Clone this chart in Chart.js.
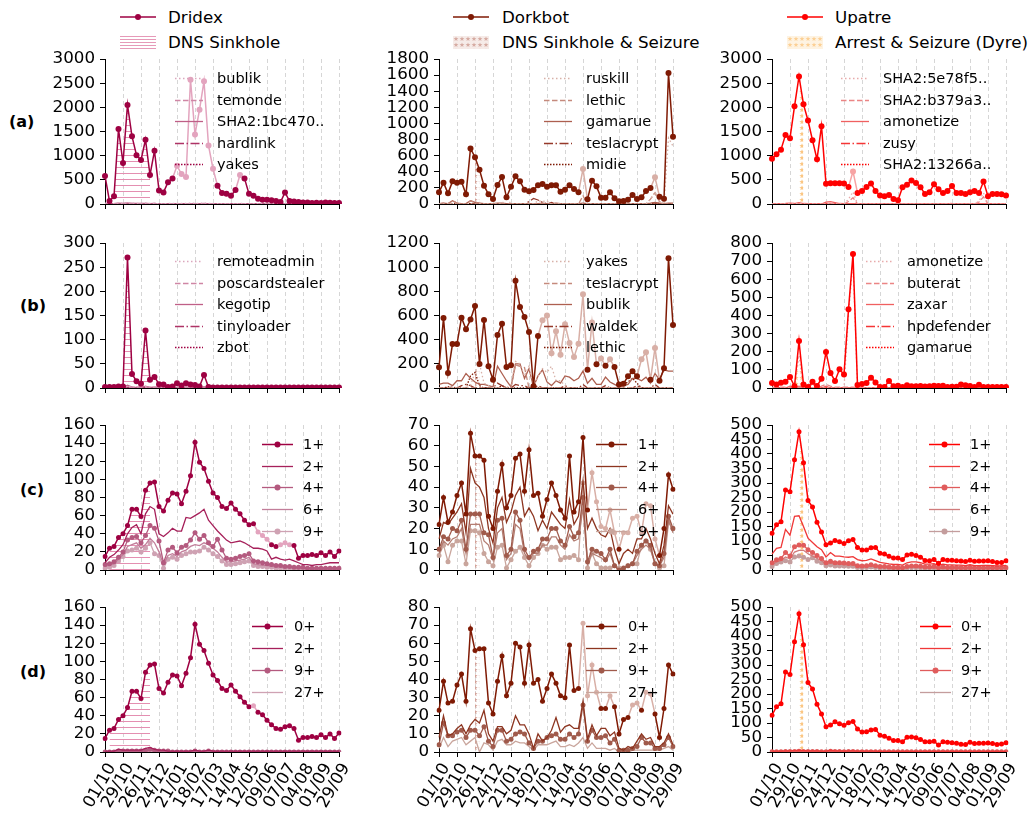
<!DOCTYPE html>
<html>
<head>
<meta charset="utf-8">
<script src="https://cdn.jsdelivr.net/npm/chart.js@4.4.1/dist/chart.umd.min.js"></script>
<style>
html,body{margin:0;padding:0;background:#fff;}
body{position:relative;width:1033px;height:814px;overflow:hidden;font-family:"DejaVu Sans",sans-serif;color:#000;}
canvas{position:absolute;}
.lt{position:absolute;font-size:16.7px;line-height:20px;white-space:nowrap;}
.rl{position:absolute;font-size:16px;font-weight:bold;line-height:20px;}
svg{position:absolute;}
</style>
</head>
<body>
<svg style="left:120px;top:7px" width="36" height="20"><line x1="0" y1="10" x2="36" y2="10" stroke="#9e0142" stroke-width="1.5"/><circle cx="18" cy="10" r="3" fill="#9e0142"/></svg>
<div class="lt" style="left:168px;top:7px">Dridex</div>
<svg style="left:120px;top:36px" width="36" height="13"><defs><pattern id="hl" width="6" height="3" patternUnits="userSpaceOnUse"><rect width="6" height="1" fill="#e699b8"/></pattern></defs><rect width="36" height="13" fill="url(#hl)"/></svg>
<div class="lt" style="left:168px;top:32px">DNS Sinkhole</div>

<svg style="left:453px;top:7px" width="36" height="20"><line x1="0" y1="10" x2="36" y2="10" stroke="#7f1a04" stroke-width="1.5"/><circle cx="18" cy="10" r="3" fill="#7f1a04"/></svg>
<div class="lt" style="left:502px;top:7px">Dorkbot</div>
<svg style="left:453px;top:36px" width="36" height="13"><defs><pattern id="sk" width="6" height="6" patternUnits="userSpaceOnUse"><polygon points="3,0.4 3.65,2.11 5.47,2.2 4.05,3.34 4.53,5.1 3,4.1 1.47,5.1 1.95,3.34 0.53,2.2 2.35,2.11" fill="#d6aca3"/></pattern></defs><rect width="36" height="13" fill="#f6ebe8"/><rect width="36" height="13" fill="url(#sk)"/></svg>
<div class="lt" style="left:502px;top:32px">DNS Sinkhole &amp; Seizure</div>

<svg style="left:787px;top:7px" width="36" height="20"><line x1="0" y1="10" x2="36" y2="10" stroke="#ff0000" stroke-width="1.5"/><circle cx="18" cy="10" r="3" fill="#ff0000"/></svg>
<div class="lt" style="left:835px;top:7px">Upatre</div>
<svg style="left:787px;top:36px" width="36" height="13"><defs><pattern id="su" width="6" height="6" patternUnits="userSpaceOnUse"><polygon points="3,0.4 3.65,2.11 5.47,2.2 4.05,3.34 4.53,5.1 3,4.1 1.47,5.1 1.95,3.34 0.53,2.2 2.35,2.11" fill="#fcd095"/></pattern></defs><rect width="36" height="13" fill="#fef3e2"/><rect width="36" height="13" fill="url(#su)"/></svg>
<div class="lt" style="left:835px;top:32px">Arrest &amp; Seizure (Dyre)</div>

<div class="rl" style="left:9px;top:112px">(a)</div>
<div class="rl" style="left:20px;top:296px">(b)</div>
<div class="rl" style="left:20px;top:480px">(c)</div>
<div class="rl" style="left:20px;top:662px">(d)</div>

<script>
// ---------- categories & tick labels ----------
const weeks = ['01/10','08/10','15/10','22/10','29/10','05/11','12/11','19/11','26/11','03/12','10/12','17/12','24/12','31/12','07/01','14/01','21/01','28/01','04/02','11/02','18/02','25/02','03/03','10/03','17/03','24/03','31/03','07/04','14/04','21/04','28/04','05/05','12/05','19/05','26/05','02/06','09/06','16/06','23/06','30/06','07/07','14/07','21/07','28/07','04/08','11/08','18/08','25/08','01/09','08/09','15/09','22/09','29/09'];
const tickLabels = ['01/10','29/10','26/11','24/12','21/01','18/02','17/03','14/04','12/05','09/06','07/07','04/08','01/09','29/09'];

// ---------- row (a) ----------
const dridexA = [580,60,160,1550,850,2050,1400,1010,910,1330, 600,1100,280,240,450,530,790,620,560,2570, 1440,1950,2540,1210,730,380,230,210,170,290, 600,530,210,170,110,90,90,80,60,40, 240,60,50,40,30,30,20,25,20,30, 25,20,20];
const dridexA_light = [16,17,18,19,20,21,22,23,24,30];
const dxA_bublik = [20,5,10,20,15,25,20,15,15,20, 10,15,5,5,10,10,10,10,10,20, 15,15,20,15,10,5,5,5,5,5, 10,10,5,5,5,5,5,5,5,5, 5,5,5,5,5,5,5,5,5,5, 5,5,5];
const dxA_temonde = [10,0,5,10,5,15,10,5,5,10, 5,10,0,0,5,5,5,5,5,10, 5,5,10,5,5,0,0,0,0,0, 5,5,0,0,0,0,0,0,0,0, 0,0,0,0,0,0,0,0,0,0, 0,0,0];
const dxA_sha = [5,0,5,15,10,20,15,10,10,10, 5,10,0,0,0,0,0,0,0,0, 0,0,0,0,0,0,0,0,0,0, 0,0,0,0,0,0,0,0,0,0, 0,0,0,0,0,0,0,0,0,0, 0,0,0];
const dxA_hardlink = [0,0,0,5,5,10,5,5,5,5, 5,5,0,0,0,0,0,0,0,0, 0,0,0,0,0,0,0,0,0,0, 0,0,0,0,0,0,0,0,0,0, 0,0,0,0,0,0,0,0,0,0, 0,0,0];
const dxA_yakes = [0,0,0,0,0,0,0,0,0,0, 0,0,0,0,0,0,0,0,0,0, 0,0,0,0,0,0,0,0,0,0, 0,0,0,0,0,0,0,0,0,0, 0,0,0,0,0,0,0,0,0,0, 0,0,0];

const dorkbotA = [145,265,132,281,265,277,120,690,580,426, 228,120,62,236,335,83,215,343,281,178, 157,174,232,248,215,232,232,153,178,232, 186,145,434,58,290,219,79,79,145,70, 33,37,54,112,62,83,161,199,331,91, 66,1626,836];
const dorkbotA_light = [32,48];
const dkA_ruskill = [0,0,0,0,0,0,0,0,0,0, 0,0,0,0,0,80,0,0,0,0, 0,0,40,30,40,0,0,0,0,0, 0,0,0,0,0,0,0,0,0,0, 0,0,0,0,0,0,0,60,150,30, 0,820,720];
const dkA_lethic = [0,10,0,40,10,0,0,40,20,10, 0,0,0,0,0,0,0,0,0,0, 0,0,0,0,0,0,0,0,0,0, 0,0,100,0,0,0,0,0,0,0, 0,0,0,0,0,0,0,60,140,30, 0,0,0];
const dkA_gamarue = [5,10,5,40,10,5,5,40,20,10, 5,5,5,10,10,5,5,5,5,5, 5,5,5,10,5,5,10,5,5,5, 5,5,10,5,5,5,5,5,5,5, 5,5,5,5,5,5,5,10,20,10, 5,10,10];
const dkA_tesla = [0,0,0,0,0,0,0,0,0,0, 0,0,0,0,0,0,0,0,0,0, 30,70,50,20,0,20,0,0,0,0, 0,0,0,0,0,0,0,0,0,0, 0,0,0,0,0,0,0,0,0,0, 0,0,0];
const dkA_midie = [0,0,0,5,0,0,0,5,5,0, 0,0,0,0,0,0,0,0,0,0, 0,0,0,0,0,0,0,0,0,0, 0,0,0,0,0,0,0,0,0,0, 0,0,0,0,0,0,0,5,10,5, 0,0,0];

const upatreA = [937,1028,1125,1430,1361,2020,2640,2062,1729,1319, 924,1611,417,430,430,430,424,354,674,229, 271,354,424,271,174,160,188,104,76,347, 396,486,437,347,208,243,410,306,229,271, 375,229,229,208,243,271,229,465,160,208, 208,201,174];
const upatreA_light = [18];
const upA_5e78 = [0,0,0,0,0,0,20,0,0,0, 0,0,0,0,0,0,0,100,250,0, 0,0,0,0,0,0,0,0,0,0, 0,0,0,0,0,0,0,0,0,0, 0,0,0,0,0,0,60,230,0,0, 0,0,0];
const upA_b379 = [0,0,0,0,0,0,10,0,0,0, 0,0,0,0,0,0,0,50,130,0, 0,0,0,0,0,0,0,0,0,0, 0,0,0,0,0,0,0,0,0,0, 0,0,0,0,0,0,40,150,0,0, 0,0,0];
const upA_amonetize = [0,0,5,10,20,10,30,10,5,0, 0,0,40,50,30,10,5,5,5,5, 5,5,5,5,5,5,5,5,5,5, 5,5,5,5,5,5,5,5,5,5, 5,5,5,5,5,5,5,5,5,5, 5,5,5];
const upA_zusy = [0,0,0,0,0,0,0,0,0,0, 0,0,0,0,0,0,0,0,0,0, 0,0,0,0,0,0,0,0,0,0, 0,0,0,0,0,0,0,0,0,0, 15,0,0,0,0,0,0,0,0,0, 0,0,0];
const upA_1326 = [0,0,0,0,0,0,0,0,0,0, 0,0,0,0,0,0,0,0,0,0, 0,0,0,0,0,0,0,0,0,0, 0,0,0,0,0,0,0,0,0,0, 0,0,0,0,0,0,0,0,0,0, 0,0,0];

// ---------- row (b) ----------
const dridexB = [2,2,2,3,3,270,29,14,9,119, 17,23,8,7,2,3,10,5,10,7, 6,3,27,2,1,1,1,1,1,1, 1,1,1,1,1,1,1,1,1,1, 1,1,1,1,1,1,1,1,1,1, 1,1,1];
const dxB_remote = [3,3,3,3,3,3,3,3,3,3, 3,3,3,3,3,3,3,3,3,3, 3,3,3,3,3,3,3,3,3,3, 3,3,3,3,3,3,3,3,3,3, 3,3,3,3,3,3,3,3,3,3, 3,3,3];
const dxB_poscard = [2,2,2,2,2,2,2,2,2,2, 2,2,2,2,2,2,2,2,2,2, 2,2,2,2,2,2,2,2,2,2, 2,2,2,2,2,2,2,2,2,2, 2,2,2,2,2,2,2,2,2,2, 2,2,2];
const dxB_kegotip = [0,0,0,1,1,6,2,1,1,4, 1,1,0,0,0,0,1,0,1,0, 0,0,2,0,0,0,0,0,0,0, 0,0,0,0,0,0,0,0,0,0, 0,0,0,0,0,0,0,0,0,0, 0,0,0];
const dxB_tiny = [1,1,1,1,1,2,1,1,1,2, 1,1,1,1,1,1,1,1,1,1, 1,1,1,1,1,1,1,1,1,1, 1,1,1,1,1,1,1,1,1,1, 1,1,1,1,1,1,1,1,1,1, 1,1,1];
const dxB_zbot = [0,0,0,0,0,0,0,0,0,0, 0,0,0,0,0,0,0,0,0,0, 0,0,0,0,0,0,0,0,0,0, 0,0,0,0,0,0,0,0,0,0, 0,0,0,0,0,0,0,0,0,0, 0,0,0];

const dorkbotB = [171,579,124,364,364,582,486,566,679,199, 563,179,69,439,532,174,188,888,670,588, 463,14,430,560,599,287,469,276,527,372, 257,367,775,152,543,196,245,185,237,174, 30,36,97,138,97,237,295,69,331,61, 163,1073,521];
const dorkbotB_light = [23,24,25,26,27,28,29,30,31,32,34,36,38,45,46,48];
const dkB_yakes = [0,0,0,0,0,0,0,20,130,200, 40,20,0,0,0,0,30,220,200,100, 180,0,100,160,130,180,60,60,20,0, 0,0,0,0,0,0,0,0,0,0, 0,0,0,0,0,0,0,0,0,0, 0,0,0];
const dkB_tesla = [0,0,0,0,0,0,0,0,0,0, 0,0,0,0,0,0,0,190,180,170, 0,0,0,0,0,0,0,0,0,0, 0,0,0,0,0,0,0,0,0,0, 0,0,0,0,0,0,0,0,0,0, 0,0,0];
const dkB_bublik = [30,40,40,20,60,60,120,80,50,30, 30,20,10,180,120,60,10,200,200,80, 160,10,100,150,50,20,60,40,100,90, 60,80,140,40,80,30,30,90,50,30, 10,20,30,80,80,60,90,40,120,70, 150,140,140];
const dkB_waldek = [0,0,0,10,0,20,30,20,0,0, 0,0,0,40,20,0,0,30,20,20, 0,0,20,0,0,0,0,0,20,0, 0,0,30,0,0,0,0,20,0,0, 0,0,0,0,20,0,0,0,30,0, 0,0,0];
const dkB_lethic = [0,0,10,0,0,0,0,100,130,20, 0,0,0,0,20,0,0,0,0,0, 0,0,0,0,0,0,0,0,0,0, 0,0,0,0,0,0,0,0,0,0, 0,30,50,80,40,0,0,0,0,0, 0,0,0];

const upatreB = [28,20,29,35,61,9,259,20,5,35, 11,51,199,83,39,103,75,434,739,17, 22,28,57,31,5,5,39,9,13,6, 15,10,9,11,8,9,13,11,13,5, 7,7,20,15,11,5,18,5,5,5, 5,5,5];
const upB_amonetize = [0,0,0,0,0,0,180,0,0,0, 0,0,0,0,0,0,0,400,700,0, 0,0,0,0,0,0,0,0,0,0, 0,0,0,0,0,0,0,0,0,0, 0,0,0,0,0,0,0,0,0,0, 0,0,0];
const upB_buterat = [5,5,5,5,5,0,5,0,0,0, 0,10,20,10,5,5,5,5,5,0, 0,0,0,0,0,0,0,0,0,0, 0,0,0,0,0,0,0,0,0,0, 0,0,0,0,0,0,0,0,0,0, 0,0,0];
const upB_zaxar = [0,0,0,0,10,0,10,0,0,25, 0,0,10,0,0,0,0,0,0,0, 0,0,0,0,0,0,0,0,0,0, 0,0,0,0,0,0,0,0,0,0, 0,0,0,0,0,0,0,0,0,0, 0,0,0];
const upB_hpdefender = [0,0,0,0,0,0,0,0,0,0, 0,0,0,0,0,0,0,0,0,0, 0,0,0,0,0,0,0,0,0,0, 0,0,0,0,0,0,0,0,0,0, 0,0,5,0,0,0,0,0,0,0, 0,0,0];
const upB_gamarue = [0,0,0,0,0,0,0,0,0,0, 0,0,0,0,0,0,0,0,0,0, 0,0,0,0,0,0,0,0,0,0, 0,0,0,0,0,0,0,0,0,0, 0,0,0,0,0,0,0,0,0,0, 0,0,0];

// ---------- row (c) ----------
const dridexC1 = [15,24,26,36,40,49,67,67,59,88, 96,97,70,65,77,85,84,73,87,104, 141,119,112,98,85,80,70,68,74,67, 62,55,50,51,42,38,34,28,26,28, 30,28,27,13,16,16,17,16,19,16, 20,15,21];
const dridexC1_light = [34,35,36,39,40,41];
const dridexC2 = [8,14,17,22,28,40,47,50,40,62, 70,67,40,37,41,46,43,43,58,57, 60,63,67,55,49,43,38,33,30,31, 32,30,27,24,24,23,21,12,14,12, 11,12,10,8,6,6,5,6,6,7, 8,8,8];
const dridexC4 = [6,7,9,14,20,33,36,37,30,38, 49,46,32,8,22,25,19,25,27,33, 41,34,38,30,26,34,22,13,12,13, 15,16,18,10,9,8,7,6,5,5, 4,4,3,3,3,2,2,2,2,2, 2,2,2];
const dridexC6 = [4,5,7,12,17,26,28,30,24,28, 35,30,20,6,16,18,15,20,22,26, 28,27,30,28,24,20,14,9,9,10, 11,12,14,7,6,5,5,4,4,3, 3,3,2,2,2,2,2,1,1,1, 1,1,1];
const dridexC9 = [2,3,5,10,15,21,22,24,20,24, 30,18,16,2,12,14,12,16,18,20, 20,21,25,22,18,15,10,6,6,7, 8,9,10,5,4,4,3,3,2,2, 2,2,1,1,1,1,1,1,1,1, 1,1,1];

const dorkbotC1 = [22,35,23,28,36,42,27,66,55,55, 53,26,20,38,51,30,36,54,56,38, 58,36,37,26,34,42,36,29,25,55, 28,33,64,29,47,33,21,20,29,18, 10,18,18,25,26,18,32,31,15,7, 20,46,39];
const dorkbotC1_light = [34,35,36,37,38,39,41,42,43,44,45,46,47,48];
const dorkbotC2 = [15,23,22,25,28,32,18,49,42,40, 35,20,13,30,35,23,28,36,40,26, 30,26,19,24,20,28,25,22,20,34, 22,26,43,20,25,20,17,16,20,10, 3,8,10,8,15,15,20,15,8,3, 12,31,27];
const dorkbotC4 = [10,16,15,20,19,24,10,27,27,27, 18,17,6,24,25,7,10,28,24,10, 6,9,10,15,15,20,20,14,12,21, 16,18,35,4,10,9,8,5,10,2, 0,1,2,3,9,12,14,12,3,2, 8,26,20];
const dorkbotC6 = [8,14,12,15,16,20,8,22,22,22, 14,12,5,18,20,5,8,22,20,8, 5,8,8,12,12,16,16,12,10,17, 14,15,30,3,8,7,6,4,8,2, 0,1,2,3,7,10,12,10,3,2, 6,24,18];
const dorkbotC9 = [7,12,4,12,14,14,3,19,19,18, 8,4,2,11,12,1,5,9,11,6, 2,6,8,12,10,11,11,5,6,6, 7,5,42,1,8,3,1,1,1,2, 1,0,2,3,3,12,14,10,3,1, 2,23,20];

const upatreC1 = [127,156,166,276,270,380,477,370,240,217, 165,131,87,93,102,97,91,101,105,78, 69,69,77,78,58,55,47,41,41,36, 52,54,50,44,33,32,36,23,36,34, 34,32,31,29,34,30,31,31,32,29, 26,26,32];
const upatreC2 = [55,75,78,140,120,185,187,150,110,95, 80,70,45,60,48,48,45,44,46,36, 32,33,38,32,26,24,21,19,19,17, 25,28,28,25,20,20,22,15,20,18, 18,17,17,15,18,15,15,16,16,15, 14,14,16];
const upatreC4 = [25,35,40,60,48,80,86,85,70,60, 50,40,25,30,25,25,24,22,22,15, 14,15,18,15,12,12,10,9,9,8, 12,14,14,13,10,10,12,8,10,9, 9,9,8,8,9,8,8,8,9,8, 8,8,9];
const upatreC6 = [18,28,32,45,38,62,68,68,56,48, 40,32,20,24,20,20,19,18,18,12, 11,12,14,12,10,9,8,7,7,6, 10,11,11,10,8,8,9,6,8,7, 7,7,6,6,7,6,6,6,7,6, 6,6,7];
const upatreC9 = [12,22,28,32,28,45,48,44,36,42, 30,25,15,17,14,14,14,13,13,9, 8,9,10,9,7,6,6,5,5,4, 7,8,8,7,6,6,7,5,6,5, 5,5,4,4,5,4,4,4,5,4, 4,4,5];

// ---------- row (d) ----------
const dridexD0 = [15,24,26,36,40,49,67,67,59,88, 96,97,70,65,77,85,84,73,87,104, 141,119,112,98,85,79,70,68,74,67, 61,55,50,51,44,41,35,30,26,25, 28,29,26,13,16,16,17,16,19,16, 20,15,21];
const dridexD0_light = [33];
const dridexD2 = [1,1,1,3,2,2,2,2,2,4, 5,3,2,2,1,1,1,1,1,1, 2,1,1,2,1,1,1,1,1,1, 1,1,1,1,1,1,1,1,1,1, 1,1,1,1,1,1,1,1,1,1, 1,1,1];
const dridexD9 = [0,0,0,1,1,1,1,1,1,2, 3,2,1,1,1,0,0,0,0,0, 1,0,0,1,0,0,0,0,0,0, 0,0,0,0,0,0,0,0,0,0, 0,0,0,0,0,0,0,0,0,0, 0,0,0];
const dridexD27 = [0,0,0,0,0,0,0,0,0,1, 1,1,0,0,0,0,0,0,0,0, 0,0,0,0,0,0,0,0,0,0, 0,0,0,0,0,0,0,0,0,0, 0,0,0,0,0,0,0,0,0,0, 0,0,0];

const dorkbotD0 = [23,39,27,28,37,43,28,68,56,57, 57,27,21,39,53,31,38,60,58,38, 59,38,40,28,35,43,38,31,30,59, 34,35,71,31,48,33,24,24,31,25, 10,18,19,26,27,23,33,32,21,8, 24,48,43];
const dorkbotD0_light = [32,33,34,35,38,43,44,46,47];
const dorkbotD2 = [8,20,9,10,13,15,10,15,18,16, 23,10,6,14,14,10,12,20,15,15, 10,2,10,6,8,12,19,11,14,15, 13,13,28,7,15,9,13,13,9,11, 2,1,3,2,6,10,7,8,3,3, 5,10,4];
const dorkbotD9 = [4,16,9,9,11,12,8,12,12,9, 14,6,3,12,12,6,7,10,11,10, 5,2,6,6,8,9,10,7,7,10, 8,10,26,6,12,8,8,9,5,7, 1,1,1,2,3,8,5,5,2,2, 4,8,3];
const dorkbotD27 = [2,8,3,6,7,8,4,6,8,0, 5,4,1,6,7,4,4,6,5,5, 3,1,4,4,4,5,6,3,3,4, 3,5,8,2,5,2,2,2,1,2, 0,0,0,1,1,1,1,1,1,1, 2,3,1];

const upatreD0 = [127,156,166,276,267,380,477,370,240,217, 165,131,87,93,104,97,92,101,105,79, 69,70,76,78,58,54,47,40,40,35, 51,52,49,43,35,35,37,24,35,34, 32,30,27,26,34,29,30,30,31,29, 26,28,32];
const upatreD2 = [3,3,3,4,4,5,6,5,4,4, 4,3,3,6,4,4,3,4,4,3, 3,3,3,3,2,2,2,2,2,2, 2,2,2,2,2,2,2,2,2,2, 2,2,2,2,2,2,2,2,2,2, 2,2,2];
const upatreD9 = [1,1,1,2,2,2,3,2,2,2, 2,1,1,3,2,2,1,2,2,1, 1,1,1,1,1,1,1,1,1,1, 1,1,1,1,1,1,1,1,1,1, 1,1,1,1,1,1,1,1,1,1, 1,1,1];
const upatreD27 = [0,0,0,1,1,1,2,1,1,1, 1,0,0,1,1,1,0,1,1,0, 0,0,0,0,0,0,0,0,0,0, 0,0,0,0,0,0,0,0,0,0, 0,0,0,0,0,0,0,0,0,0, 0,0,0];

// ---------- styles ----------
const DX = '#9e0142', DX_L = '#e3a4be', DX_H = '#e48fb1';
const DK = '#7f1a04', DK_L = '#d8afa6', DK_H = '#d3a299';
const UP = '#ff0000', UP_L = '#f7a3a3', UP_H = '#fbc682';
const DX_F = ['#dba7bd','#cf86a5','#bf5f87','#ae3366','#9e0142'];
const DK_F = ['#d8b1a8','#c58a7d','#ad5f4f','#96392a','#7f1a04'];
const UP_F = ['#e8aaaa','#eb8585','#f06060','#f53535','#ff0000'];
const DX_T = ['#9e0142','#a6205a','#b45a7f','#c27e9a','#cfa2b3'];
const DK_T = ['#7f1a04','#8d3520','#a05a4b','#b47e73','#c9a59c'];
const UP_T = ['#ff0000','#f03838','#e05c5c','#d07c7c','#c49d9d'];
const DOT = [1.5, 2.5], DASH = [5.5, 2.5], SOLID = [], DASHDOT = [9, 2.5, 1.5, 2.5], DOTD = [1.5, 1.5];

const YW = 75, PW = 234, PH = 145, PT = 12, PR = 14, XH = 8, XHD = 62;
const COLX = [105, 439, 772], ROWY = [59, 243, 425, 607];
const GRID = '#d6d6d6';
Chart.defaults.font.family = 'DejaVu Sans';

function starPath(g, cx, cy, R, r) {
  g.beginPath();
  for (let k = 0; k < 10; k++) {
    const ang = -Math.PI / 2 + k * Math.PI / 5, rad = k % 2 ? r : R;
    g.lineTo(cx + rad * Math.cos(ang), cy + rad * Math.sin(ang));
  }
  g.closePath(); g.fill();
}
function makePattern(kind, color) {
  const c = document.createElement('canvas'); c.width = 6; c.height = 6;
  const g = c.getContext('2d'); g.fillStyle = color;
  if (kind === 'lines') { g.fillRect(0, 0, 6, 1); }
  else { starPath(g, 3, 3, 2.8, 1.2); }
  return g.createPattern(c, 'repeat');
}

const M = (data, color, lightColor, light, radius, label) => ({data, color, lightColor, light, radius, label, width: 1.5});
const F = (label, data, color, dash, radius) => ({label, data, color, dash, radius: radius || 0, width: 1.3});

const panels = [
  {row:0, col:0, yMax:3000, yStep:500,
   lines:[M(dridexA, DX, DX_L, dridexA_light, 3),
          F('bublik', dxA_bublik, DX_F[0], DOT), F('temonde', dxA_temonde, DX_F[1], DASH),
          F('SHA2:1bc470..', dxA_sha, DX_F[2], SOLID), F('hardlink', dxA_hardlink, DX_F[3], DASHDOT),
          F('yakes', dxA_yakes, DX_F[4], DOTD)],
   legend:{x:70, tx:112, y0:19, dy:21.5, len:28},
   hatch:{from:1, to:10, top:dridexA, kind:'lines', color:DX_H}},
  {row:0, col:1, yMax:1800, yStep:200,
   lines:[M(dorkbotA, DK, DK_L, dorkbotA_light, 3),
          F('ruskill', dkA_ruskill, DK_F[0], DOT), F('lethic', dkA_lethic, DK_F[1], DASH),
          F('gamarue', dkA_gamarue, DK_F[2], SOLID), F('teslacrypt', dkA_tesla, DK_F[3], DASHDOT),
          F('midie', dkA_midie, DK_F[4], DOTD)],
   legend:{x:105, tx:147, y0:19, dy:21.5, len:28},
   hatch:{from:8, to:9, top:dorkbotA, kind:'stars', color:DK_H}},
  {row:0, col:2, yMax:3000, yStep:500,
   lines:[M(upatreA, UP, UP_L, upatreA_light, 3),
          F('SHA2:5e78f5..', upA_5e78, UP_F[0], DOT), F('SHA2:b379a3..', upA_b379, UP_F[1], DASH),
          F('amonetize', upA_amonetize, UP_F[2], SOLID), F('zusy', upA_zusy, UP_F[3], DASHDOT),
          F('SHA2:13266a..', upA_1326, UP_F[4], DOTD)],
   legend:{x:69, tx:111, y0:19, dy:21.5, len:28},
   hatch:{from:6, to:7, top:upatreA, kind:'stars', color:UP_H}},

  {row:1, col:0, yMax:300, yStep:50,
   lines:[M(dridexB, DX, DX_L, [], 3),
          F('remoteadmin', dxB_remote, DX_F[0], DOT), F('poscardstealer', dxB_poscard, DX_F[1], DASH),
          F('kegotip', dxB_kegotip, DX_F[2], SOLID), F('tinyloader', dxB_tiny, DX_F[3], DASHDOT),
          F('zbot', dxB_zbot, DX_F[4], DOTD)],
   legend:{x:70, tx:112, y0:18, dy:21.5, len:28},
   hatch:{from:1, to:10, top:dridexB, kind:'lines', color:DX_H}},
  {row:1, col:1, yMax:1200, yStep:200,
   lines:[M(dorkbotB, DK, DK_L, dorkbotB_light, 3),
          F('yakes', dkB_yakes, DK_F[0], DOT), F('teslacrypt', dkB_tesla, DK_F[1], DASH),
          F('bublik', dkB_bublik, DK_F[2], SOLID), F('waldek', dkB_waldek, DK_F[3], DASHDOT),
          F('lethic', dkB_lethic, DK_F[4], DOTD)],
   legend:{x:105, tx:147, y0:18, dy:21.5, len:28},
   hatch:{from:8, to:9, top:dkB_yakes, kind:'stars', color:DK_H}},
  {row:1, col:2, yMax:800, yStep:100,
   lines:[M(upatreB, UP, UP_L, [], 3),
          F('amonetize', upB_amonetize, UP_F[0], DOT), F('buterat', upB_buterat, UP_F[1], DASH),
          F('zaxar', upB_zaxar, UP_F[2], SOLID), F('hpdefender', upB_hpdefender, UP_F[3], DASHDOT),
          F('gamarue', upB_gamarue, UP_F[4], DOTD)],
   legend:{x:94, tx:135, y0:18, dy:21.5, len:28},
   hatch:{from:5, to:7, top:upB_amonetize, kind:'stars', color:UP_H}},

  {row:2, col:0, yMax:160, yStep:20,
   lines:[M(dridexC1, DX_T[0], DX_L, dridexC1_light, 2.5, '1+'),
          F('2+', dridexC2, DX_T[1], SOLID), F('4+', dridexC4, DX_T[2], SOLID, 2.5),
          F('6+', dridexC6, DX_T[3], SOLID), F('9+', dridexC9, DX_T[4], SOLID, 2.5)],
   legend:{x:157, tx:198, y0:19, dy:21.7, len:31},
   hatch:{from:1, to:10, top:dridexC1, kind:'lines', color:DX_H}},
  {row:2, col:1, yMax:70, yStep:10,
   lines:[M(dorkbotC1, DK_T[0], DK_L, dorkbotC1_light, 2.5, '1+'),
          F('2+', dorkbotC2, DK_T[1], SOLID), F('4+', dorkbotC4, DK_T[2], SOLID, 2.5),
          F('6+', dorkbotC6, DK_T[3], SOLID), F('9+', dorkbotC9, DK_T[4], SOLID, 2.5)],
   legend:{x:157, tx:199, y0:19, dy:21.7, len:31},
   hatch:{from:8, to:9, top:dorkbotC1, kind:'stars', color:DK_H}},
  {row:2, col:2, yMax:500, yStep:50,
   lines:[M(upatreC1, UP_T[0], UP_L, [], 2.5, '1+'),
          F('2+', upatreC2, UP_T[1], SOLID), F('4+', upatreC4, UP_T[2], SOLID, 2.5),
          F('6+', upatreC6, UP_T[3], SOLID), F('9+', upatreC9, UP_T[4], SOLID, 2.5)],
   legend:{x:157, tx:198, y0:19, dy:21.7, len:31},
   hatch:{from:6, to:7, top:upatreC1, kind:'stars', color:UP_H}},

  {row:3, col:0, yMax:160, yStep:20,
   lines:[M(dridexD0, DX_T[0], DX_L, dridexD0_light, 2.5, '0+'),
          F('2+', dridexD2, DX_T[1], SOLID), F('9+', dridexD9, DX_T[2], SOLID, 2.5),
          F('27+', dridexD27, DX_T[4], SOLID)],
   legend:{x:147, tx:189, y0:19, dy:22, len:31},
   hatch:{from:1, to:10, top:dridexD0, kind:'lines', color:DX_H}},
  {row:3, col:1, yMax:80, yStep:10,
   lines:[M(dorkbotD0, DK_T[0], DK_L, dorkbotD0_light, 2.5, '0+'),
          F('2+', dorkbotD2, DK_T[1], SOLID), F('9+', dorkbotD9, DK_T[2], SOLID, 2.5),
          F('27+', dorkbotD27, DK_T[4], SOLID)],
   legend:{x:147, tx:189, y0:19, dy:22, len:31},
   hatch:{from:8, to:9, top:dorkbotD0, kind:'stars', color:DK_H}},
  {row:3, col:2, yMax:500, yStep:50,
   lines:[M(upatreD0, UP_T[0], UP_L, [], 2.5, '0+'),
          F('2+', upatreD2, UP_T[1], SOLID), F('9+', upatreD9, UP_T[2], SOLID, 2.5),
          F('27+', upatreD27, UP_T[4], SOLID)],
   legend:{x:148, tx:189, y0:19, dy:22, len:31},
   hatch:{from:6, to:7, top:upatreD0, kind:'stars', color:UP_H}}
];

function buildPanel(p) {
  const xh = p.row === 3 ? XHD : XH;
  const cv = document.createElement('canvas');
  cv.width = YW + PW + PR; cv.height = PT + PH + xh;
  cv.style.left = (COLX[p.col] - YW) + 'px';
  cv.style.top = (ROWY[p.row] - PT) + 'px';
  document.body.appendChild(cv);

  const datasets = p.lines.map(l => {
    const light = new Set(l.light || []);
    const lc = l.lightColor || l.color;
    const d = {
      label: l.label || '', data: l.data, borderColor: l.color, borderWidth: l.width,
      borderDash: l.dash || [], pointRadius: l.radius || 0, pointHoverRadius: l.radius || 0,
      pointBorderWidth: 0, pointHitRadius: 0,
      pointBackgroundColor: l.data.map((v, i) => light.has(i) ? lc : l.color),
      pointBorderColor: l.data.map((v, i) => light.has(i) ? lc : l.color),
      fill: false, tension: 0
    };
    if (light.size) d.segment = { borderColor: c => (light.has(c.p0DataIndex) || light.has(c.p1DataIndex)) ? lc : undefined };
    return d;
  });
  if (p.hatch) {
    const h = p.hatch;
    datasets.push({
      label: '', data: h.top.map((v, i) => (i >= h.from && i <= h.to) ? v : null),
      borderWidth: 0, borderColor: 'rgba(0,0,0,0)', pointRadius: 0, pointHoverRadius: 0,
      fill: 'origin', backgroundColor: makePattern(h.kind, h.color), spanGaps: false, tension: 0
    });
  }
  const items = p.lines.filter(l => l.label).map(l => ({label: l.label, color: l.color, dash: l.dash || [], width: l.width, radius: l.radius || 0}));
  const L = p.legend;
  const legendPlugin = {
    id: 'panelLegend' + p.row + p.col,
    afterDraw(chart) {
      const ctx = chart.ctx, a = chart.chartArea;
      ctx.save();
      items.forEach((it, i) => {
        const y = Math.round(a.top + L.y0 + i * L.dy) + 0.5;
        const x0 = a.left + L.x, x1 = x0 + L.len;
        ctx.strokeStyle = it.color; ctx.lineWidth = it.width; ctx.setLineDash(it.dash);
        ctx.beginPath(); ctx.moveTo(x0, y); ctx.lineTo(x1, y); ctx.stroke();
        ctx.setLineDash([]);
        if (it.radius) { ctx.fillStyle = it.color; ctx.beginPath(); ctx.arc((x0 + x1) / 2, y, it.radius + 0.5, 0, Math.PI * 2); ctx.fill(); }
        ctx.fillStyle = '#000'; ctx.font = '14.5px "DejaVu Sans"'; ctx.textBaseline = 'middle'; ctx.textAlign = 'left';
        ctx.fillText(it.label, a.left + L.tx, y + 1);
      });
      ctx.restore();
    }
  };

  new Chart(cv, {
    type: 'line',
    data: { labels: weeks, datasets },
    plugins: [legendPlugin],
    options: {
      responsive: false, animation: false, devicePixelRatio: 1, events: [],
      layout: { padding: { left: 0, top: PT, right: PR, bottom: 0 } },
      plugins: { legend: { display: false }, tooltip: { enabled: false } },
      scales: {
        x: {
          type: 'category', offset: false,
          grid: {
            drawOnChartArea: true, lineWidth: 1, tickLength: 5,
            color: c => c.index % 4 === 0 ? GRID : 'rgba(0,0,0,0)',
            tickColor: c => c.index % 4 === 0 ? '#000' : 'rgba(0,0,0,0)'
          },
          border: { display: true, color: '#000', width: 1, dash: [4, 3] },
          ticks: {
            display: p.row === 3, autoSkip: false, maxRotation: 60, minRotation: 60, padding: 3, labelOffset: 7,
            color: '#000', font: { family: 'DejaVu Sans', size: 16.7 },
            callback: (v, i) => i % 4 === 0 ? tickLabels[i / 4] : ''
          },
          afterFit: s => { s.height = xh; s.paddingLeft = 0; s.paddingRight = 0; }
        },
        y: {
          min: 0, max: p.yMax,
          grid: { drawOnChartArea: false, tickLength: 5, tickColor: '#000' },
          border: { display: true, color: '#000', width: 1 },
          ticks: {
            stepSize: p.yStep, autoSkip: false, padding: 5, color: '#000',
            font: { family: 'DejaVu Sans', size: 16.7, lineHeight: 1 },
            callback: v => String(v)
          },
          afterFit: s => { s.width = YW; s.paddingTop = 0; s.paddingBottom = 0; }
        }
      }
    }
  });
}
panels.forEach(buildPanel);
</script>
</body>
</html>
